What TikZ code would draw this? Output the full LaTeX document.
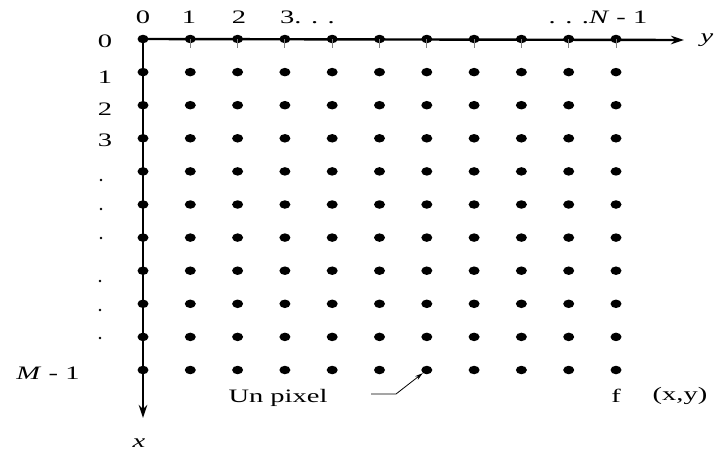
\documentclass[tikz,border=0pt]{standalone}
\usepackage{fontspec}
\setmainfont{Liberation Serif}
\usepackage{graphicx}
\usetikzlibrary{arrows.meta,shapes.geometric}
\newcommand{\wide}[1]{\scalebox{1.5}[1]{#1}}
\begin{document}
\begin{tikzpicture}[x=1pt,y=-1pt,
  pix/.style={shape=ellipse,fill=black,draw=none,minimum width=11pt,minimum height=8.5pt,inner sep=0pt},
  sdot/.style={shape=circle,fill=black,draw=none,minimum size=2.6pt,inner sep=0pt},
  lbl/.style={font=\fontsize{19}{21}\selectfont,inner sep=0pt},
  axisline/.style={line width=2.4pt,-{Stealth[length=13pt,width=8.5pt]}},
  tick/.style={gray,line width=0.9pt},
  leader/.style={line width=0.8pt,-{Stealth[length=8pt,width=4.5pt]}}]
\useasboundingbox (0,0) rectangle (718,453);
% pixel grid
\foreach \i in {0,...,10}{
  \foreach \j in {0,...,10}{
    \node[pix] (d-\i-\j) at ({143+47.3*\j},{39+33.1*\i}) {};
  }
}
% axes
\coordinate (yend) at (684,40);
\coordinate (xend) at (143,418);
\draw[axisline] (d-0-0.center) -- (yend);
\draw[axisline] (d-0-0.center) -- (xend);
\foreach \j in {1,...,10}{
  \draw[tick] (d-0-\j.center) -- ++(0,9);
}
% column labels
\node[lbl] (c0) at (143,17) {\wide{0}};
\node[lbl] (c1) at (189,17) {\wide{1}};
\node[lbl] (c2) at (239,17) {\wide{2}};
\node[lbl,anchor=west] (c3) at (280,17) {\wide{3. . .}};
\node[lbl] (cN) at (598,17) {\wide{. . .\textit{N} - 1}};
\node[lbl] (ylab) at (707,40) {\wide{\textit{y}}};
% row labels
\node[lbl] (r0) at (105,41) {\wide{0}};
\node[lbl] (r1) at (105,77) {\wide{1}};
\node[lbl] (r2) at (105,109) {\wide{2}};
\node[lbl] (r3) at (105,140) {\wide{3}};
\node[sdot] (s1) at (101,180) {};
\node[sdot] (s2) at (101,209) {};
\node[sdot] (s3) at (101,238) {};
\node[sdot] (s4) at (100,281) {};
\node[sdot] (s5) at (100,310) {};
\node[sdot] (s6) at (100,338) {};
\node[lbl] (rM) at (48,373) {\wide{\textit{M} - 1}};
\node[lbl] (xlab) at (139,443) {\wide{\textit{x}}};
% pixel annotation
\node[lbl] (un) at (278,398) {\wide{Un pixel}};
\coordinate (lstart) at (371,394);
\coordinate (lbend) at (396,394);
\draw[leader] (lstart) -- (lbend) -- (d-10-6);
\node[lbl] (f) at (616,396) {\wide{f}};
\node[lbl] (fxy) at (680,396) {\wide{(x,y)}};
\end{tikzpicture}
\end{document}
